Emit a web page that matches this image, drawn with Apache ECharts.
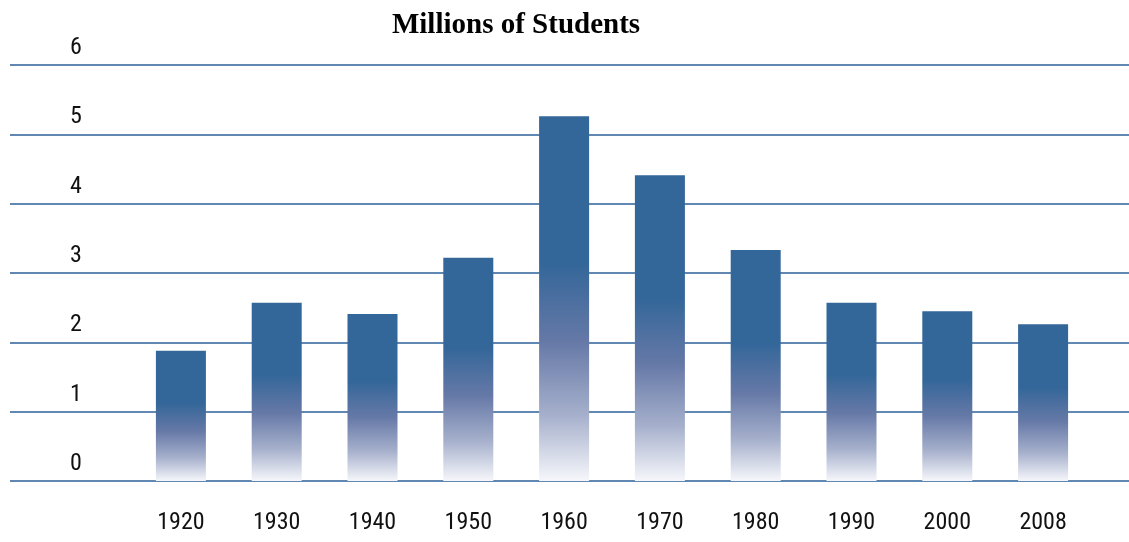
<!DOCTYPE html>
<html><head><meta charset="utf-8">
<script src="https://cdn.jsdelivr.net/npm/echarts@6/dist/echarts.min.js"></script>
<style>html,body{margin:0;padding:0;background:#fff}#c{width:1129px;height:542px}</style>
</head><body><div id="c"></div>
<script>
var categories = ['1920','1930','1940','1950','1960','1970','1980','1990','2000','2008'];
var students = [1.88, 2.57, 2.41, 3.22, 5.26, 4.41, 3.33, 2.57, 2.45, 2.26];
var yTicks = [0, 1, 2, 3, 4, 5, 6];
var titleText = 'Millions of Students';

var narrow = '"Liberation Sans Narrow", "Arial Narrow", "Roboto Condensed", sans-serif';
var chart = echarts.init(document.getElementById('c'));
var barColor = new echarts.graphic.LinearGradient(0, 0, 0, 1, [
  {offset: 0, color: '#336699'},
  {offset: 0.4, color: '#336699'},
  {offset: 0.62, color: '#6679a7'},
  {offset: 0.82, color: '#a6b0cc'},
  {offset: 1, color: '#f6f7fb'}
]);
chart.setOption({
  animation: false,
  title: {text: titleText, left: 511, top: 6, textAlign: 'center',
    textStyle: {fontFamily: '"Liberation Serif", "Times New Roman", serif', fontWeight: 'bold', fontSize: 29, color: '#000'}},
  grid: [
    {left: 10, right: 0, top: 65, bottom: 61},
    {left: 133, right: 38, top: 65, bottom: 61}
  ],
  xAxis: [
    {gridIndex: 0, type: 'value', show: false, min: 0, max: 1},
    {gridIndex: 1, type: 'category', data: categories,
      axisLine: {show: false}, axisTick: {show: false},
      axisLabel: {margin: 30, fontFamily: narrow, fontSize: 24, color: '#111'}}
  ],
  yAxis: [
    {gridIndex: 0, type: 'value', min: 0, max: 6, interval: 1,
      axisLine: {show: false}, axisTick: {show: false},
      axisLabel: {inside: true, margin: 60, align: 'left', verticalAlign: 'bottom', padding: [0,0,5,0],
        fontFamily: narrow, fontSize: 24, color: '#111',
        formatter: function(v){ return yTicks.indexOf(v) >= 0 ? String(v) : ''; }},
      splitLine: {lineStyle: {color: '#6088b2', width: 2}}},
    {gridIndex: 1, type: 'value', min: 0, max: 6, interval: 1, show: false, splitLine: {show: false}}
  ],
  series: [
    {type: 'bar', xAxisIndex: 1, yAxisIndex: 1, data: students, barWidth: 50,
      itemStyle: {color: barColor}}
  ]
});
</script></body></html>
